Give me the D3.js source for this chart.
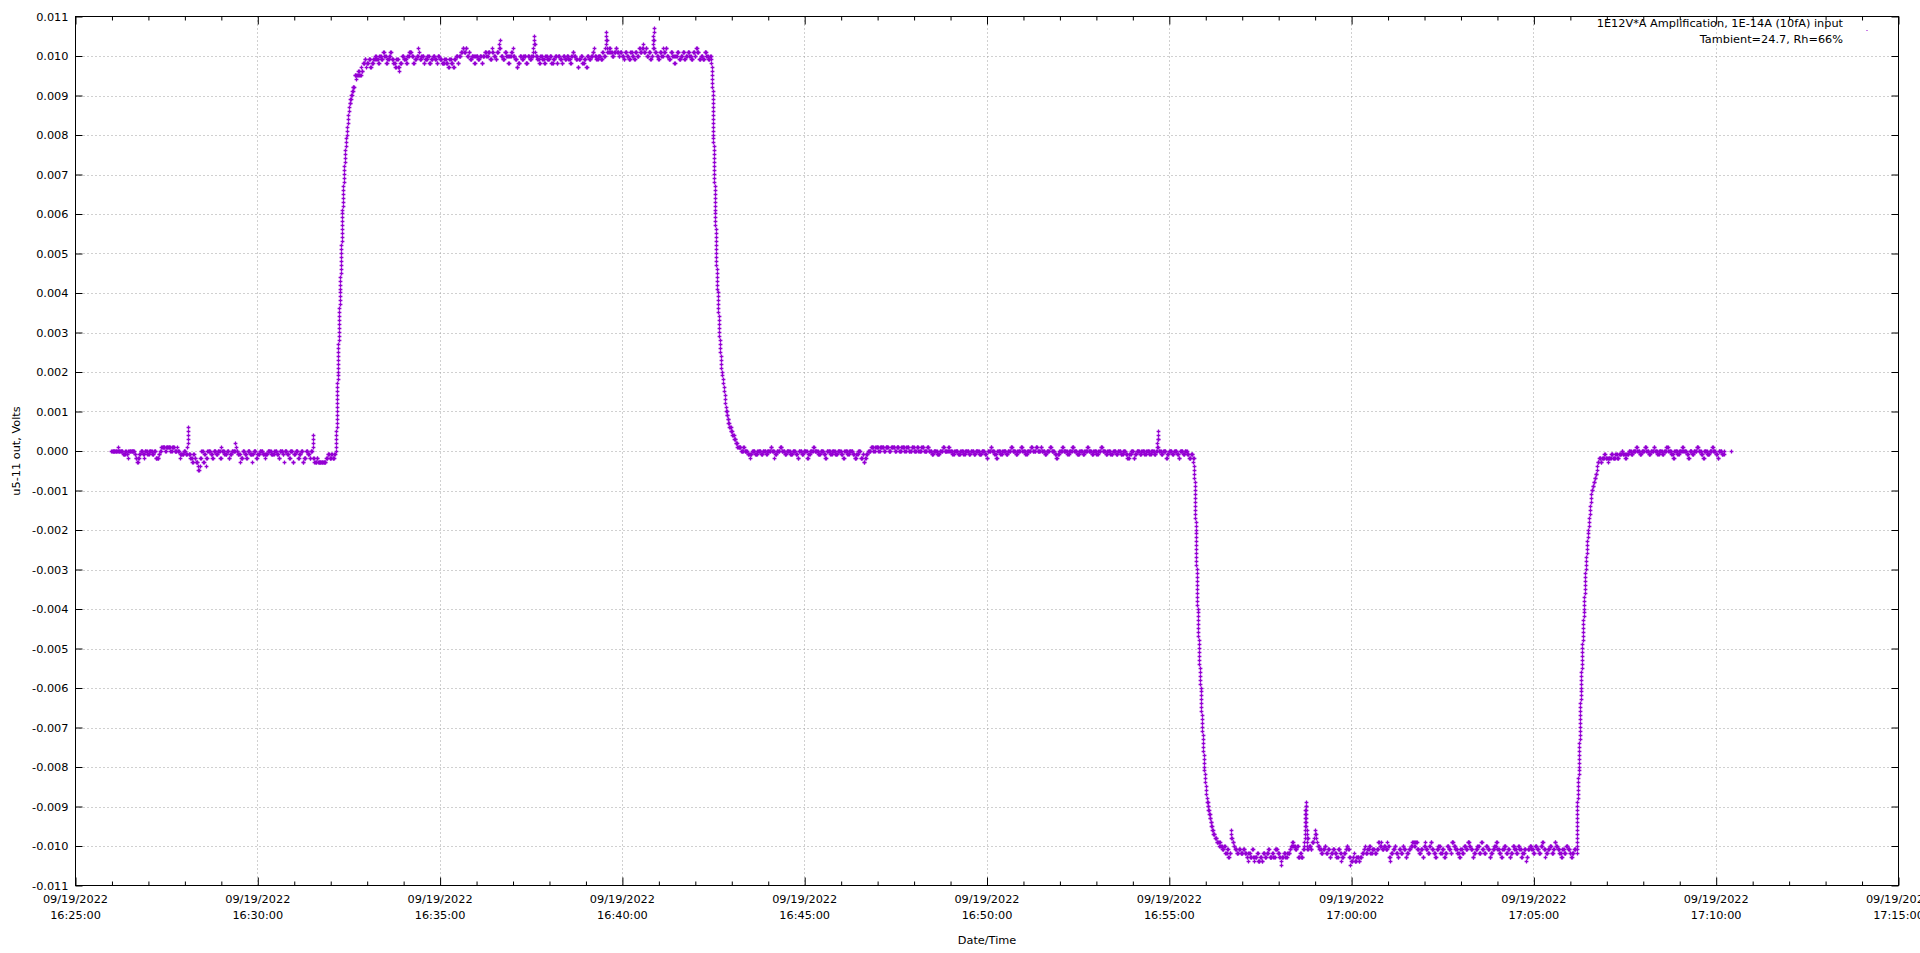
<!DOCTYPE html>
<html><head><meta charset="utf-8">
<script src="https://cdn.jsdelivr.net/npm/d3@7"></script>
<style>
html,body{margin:0;padding:0;background:#fff;overflow:hidden;}
svg{display:block;}
text{font-family:"DejaVu Sans",Verdana,sans-serif;font-size:11.3px;fill:#000;}
.tick text{font-family:"DejaVu Sans",Verdana,sans-serif;font-size:11.3px;fill:#000;}
</style></head><body>
<svg id="chart" width="1920" height="953"></svg>
<script>
// ---------------- DATA (levels in units of 0.0001 V, durations in seconds) ----------------
const yLabel = "u5-11 out, Volts";
const xLabel = "Date/Time";
const legendLines = ["1E12V*A Amplification, 1E-14A (10fA) input", "Tambient=24.7, Rh=66%"];
const yTickValues = [-0.011,-0.010,-0.009,-0.008,-0.007,-0.006,-0.005,-0.004,-0.003,-0.002,-0.001,0,0.001,0.002,0.003,0.004,0.005,0.006,0.007,0.008,0.009,0.010,0.011];
const xMajorMinutes = [0,5,10,15,20,25,30,35,40,45,50];   // minutes after 16:25:00
const xMinorMinutes = [1,2,3,4,6,7,8,9,11,12,13,14,16,17,18,19,21,22,23,24,26,27,28,29,31,32,33,34,36,37,38,39,41,42,43,44,46,47,48,49];

// segment start times, seconds after 16:25:00
const segStarts = {segA:60, rise1:429, segB:460, fall1:1047, segC:1090, fall2:1841.6, segD:1876, rise2:2471, segE:2506};

const segA = [[0,10],[1,1],[0,8],[-1,4],[0,2],[-1,2],[-2,1],[0,10],[-1,2],[-2,2],[-3,2],[-2,2],[-1,2],[0,4],[-1,2],[-2,1],[0,4],[-1,3],[0,5],[-1,3],[0,3],[-2,5],[-1,2],[0,2],[1,6],[0,2],[1,7],[0,3],[1,4],[0,4],[1,1],[0,3],[-2,1],[-1,6],[0,3],[-1,3],
[1,.3],[2,.3],[3,.3],[4,.3],[5,.3],[6,.5],
[-1,3],[-2,3],[-3,2],[-1,2],[-2,2],[-3,3],[-4,1],[-5,2],[-4,1],[-2,2],[0,3],[-3,2],[-1,2],[-4,1],[-2,2],[0,5],[-1,3],[-2,2],[0,4],[-1,3],[0,4],[-2,2],[1,1],[0,4],[-1,4],[0,3],[-2,2],[-1,3],[0,6],[2,1],[1,1],[0,2],[-1,4],[-3,1],[-2,3],[0,3],[-1,3],[-2,2],[0,4],[-1,3],[-3,1],[-1,2],[0,4],[-2,2],[-1,4],[0,5],[-1,4],[-2,1],[-1,3],[0,6],[-1,5],[0,4],[-1,3],[-2,2],[0,5],[-1,2],[-3,1],[0,4],[-1,3],[-2,2],[0,4],[-3,2],[-1,3],[0,4],[-2,2],[-1,3],[0,3],[-3,2],[-2,3],[0,3],[-1,3],[-2,2],[0,3],
[1,.3],[2,.3],[3,.3],[4,.5],
[-2,1.6],[-3,4],[-2,2],[-3,5],[-3,8],[-2,3],[-1,3],[-2,3],[-1,2],[-2,3],[-1,2]];

const rise1From = 0;
const rise1Dur = [.25,.25,.25,.25,.25,.25,
 .1,.1,.1,.1,.1,.1,.1,.1,
 .2,.25,.2,.25,.2,.2,
 .14,.14,.14,.14,.14,.14,.14,.14,
 .2,.18,.2,.18,.2,.18,.2,.18,.2,
 .2,.2,.2,.2,.2,.2,.2,.2,
 .24,.24,.24,.24,.24,
 .14,.14,.14,.14,.14,.14,.14,
 .23,.23,.23,.23,.23,.23,.23,
 .28,.28,.28,.28,.28,.28,
 .38,.38,.38,.38,.38,.38,
 .53,.53,.53,
 .65,.65,.65,.65,
 .4,.4,.4,
 .85,.85,
 1.35,1.35,1.35,1.35,
 2.7];

const segB = [[95,2],[94,1],[95,3],[96,2],[95,3],[97,1],[96,2],[98,3],[99,2],[97,1],[98,3],[99,3],[97,2],[98,3],[99,3],[100,2],[99,3],[98,2],[100,3],[99,3],[101,2],[100,3],[98,2],[99,3],[100,2],[101,2],[99,3],[98,3],[97,2],[99,3],[97,2],[96,1],[98,3],[100,3],[99,4],[98,2],[100,3],[101,4],[100,3],[98,2],[99,3],[100,3],[102,1],[101,1],[99,3],[100,4],[98,2],[99,4],[100,3],[98,3],[99,3],[100,3],[99,3],[98,2],[100,3],[99,4],[98,4],[99,3],[98,3],[97,2],[99,3],[98,3],[97,2],[99,3],[100,3],[98,2],[100,3],[101,3],[102,2],[101,3],[102,2],[100,3],[101,2],[99,3],[100,4],[98,2],[100,4],[99,3],[100,3],[98,2],[100,3],[101,3],[100,3],[101,3],[99,3],[102,1],[101,2],[100,3],[99,2],[101,3],[102,1],[103,1],[104,1],[102,1],[100,3],[99,3],[101,3],[100,3],[98,2],[100,3],[101,2],[102,1],[100,3],[99,3],[97,2],[98,3],[100,3],[99,3],[100,4],[98,3],[100,3],[99,3],[100,3],
[101,.5],[102,.5],[103,.5],[104,.5],[105,1],[103,.5],[101,.5],
[100,3],[99,3],[98,2],[100,3],[99,3],[98,2],[100,3],[99,4],[100,3],[98,3],[99,3],[100,3],[98,2],[100,3],[99,3],[98,2],[100,3],[99,3],[100,3],[99,3],[98,2],[100,2],[101,2],[100,3],[99,3],[97,2],[99,3],[100,3],[98,3],[99,3],[97,2],[100,3],[99,3],[100,3],[101,2],[102,1],[100,3],[99,3],[100,4],[99,3],[101,2],[100,3],
[102,.4],[103,.4],[104,.4],[105,.4],[106,.4],[104,.5],[102,.5],
[101,3],[102,2],[101,3],[100,3],[101,3],[102,2],[101,3],[100,2],[101,3],[100,3],[99,2],[101,3],[100,3],[99,3],[101,3],[100,3],[99,2],[101,3],[100,3],[102,2],[101,3],[102,2],[103,1],[101,3],[102,2],[100,3],[101,3],[99,2],[100,2],
[102,.3],[103,.3],[104,.3],[105,.3],[106,.3],[107,.5],[104,.4],[102,.6],
[101,3],[100,3],[99,2],[101,3],[100,3],[102,1],[101,3],[102,2],[100,3],[99,3],[101,3],[100,3],[98,2],[100,3],[101,3],[99,3],[100,3],[101,3],[99,2],[100,3],[101,3],[100,3],[99,3],[101,3],[100,2],[102,2],[101,3],[99,3],[100,3],[99,3],[101,3],[100,3],[99,3],[100,2]];

const fall1From = 99;
const fall1Dur = [.33,.33,.33,.33,
 .2,.2,.2,.2,.2,
 .1,.1,.1,.1,.1,.1,.1,.1,.1,.1,
 .17,.17,.17,.17,.17,.17,.17,.17,.17,.17,
 .16,.16,.16,.16,.16,.16,.16,.16,.16,.16,
 .12,.12,.12,.12,.12,.12,.12,.12,.12,.12,
 .26,.26,.26,.26,.26,.26,.26,.26,.26,.26,
 .28,.28,.28,.28,.28,.28,.28,.28,.28,.28,
 .38,.38,.38,.38,.38,.38,.38,.38,.38,.38,
 .88,.88,.88,.88,.88,
 .56,.56,.56,.56,.56,
 1.4,1.4,1.4,1.4,
 2.45,2.45,
 2.7,2.7,2.7];

const segC = [[1,6],[0,4],[1,2],[0,5],[-1,3],[-2,1],[-1,3],[0,5],[-1,4],[0,6],[-1,3],[0,5],[-1,2],[0,6],[1,2],[0,4],[-2,1],[-1,3],[0,5],[1,3],[0,5],[-1,3],[0,6],[-1,4],[0,5],[-1,3],[-2,2],[0,5],[-1,3],[0,6],[-2,2],[-1,3],[0,5],[1,2],[0,6],[-1,4],[0,5],[-1,3],[-2,2],[0,6],[-1,3],[0,5],[-1,4],[0,6],[-1,3],[-2,2],[0,5],[-1,3],[0,6],[-1,3],[-2,3],[-1,3],[0,4],[-2,3],[-1,2],[-3,2],[-2,2],[-1,3],[0,5],[1,4],[0,3],[1,5],[0,3],[1,6],[0,3],[1,5],[0,4],[1,6],[0,3],[1,4],[0,4],[1,5],[0,3],[1,4],[0,5],[1,4],[0,4],[1,3],[0,5],[1,4],[0,5],[1,3],[0,5],[-1,3],[0,6],[-1,4],[0,5],[1,3],[0,6],[1,2],[0,5],[-1,3],[0,6],[-1,4],[0,5],[-1,3],[0,6],[-1,3],[0,5],[-1,3],[0,6],[-1,4],[0,5],[-1,3],[-2,2],[0,5],[1,2],[0,4],[-1,3],[-2,2],[0,5],[-1,3],[0,6],[-1,3],[0,5],[1,3],[0,5],[-1,3],[0,5],[1,3],[0,5],[-1,3],[0,6],[1,3],[0,5],[1,3],[0,5],[1,2],[0,5],[-1,3],[0,5],[1,3],[0,5],[-1,3],[-2,2],[-1,3],[0,5],[1,2],[0,6],[-1,3],[0,5],[1,3],[0,5],[-1,4],[0,5],[-1,3],[0,5],[1,2],[0,5],[-1,3],[0,5],[-1,3],[0,4],[1,3],[0,5],[-1,3],[0,5],[-1,4],[0,5],[-1,3],[0,5],[-1,4],[0,4],[-1,3],[-2,3],[-1,3],[0,4],[-2,2],[-1,3],[0,5],[-1,3],[0,5],[-1,3],[0,5],[-1,3],[0,5],[-1,3],[0,2],
[1,.3],[2,.3],[3,.3],[4,.3],[5,.4],[3,.4],[1,.4],
[0,4],[-1,3],[0,5],[-2,2],[-1,3],[0,5],[-1,3],[0,5],[-1,3],[-2,2],[0,5],[-1,3],[0,4],[-1,3],[-2,3],[-1,3],[-3,1],[-2,1.6]];

const fall2From = -4;
const fall2Dur = [.2,.2,.2,.2,.2,.2,
 .16,.16,.16,.16,.16,.16,.16,.16,.16,.16,
 .12,.12,.12,.12,.12,.12,.12,.12,.12,.12,
 .17,.17,.17,.17,.17,.17,.17,.17,.17,.17,
 .21,.21,.21,.21,.21,.21,.21,.21,.21,.21,
 .28,.28,.28,.28,.28,.28,.28,.28,.28,.28,
 .26,.26,.26,.26,.26,.26,.26,.26,.26,.26,
 .33,.33,.33,.33,.33,.33,.33,.33,.33,.33,
 .54,.54,.54,.54,.54,.54,.54,.54,.54,
 1.1,1.1,1.1,1.1,
 1.35,1.35,1.35,1.35,
 3];

const segD = [[-98,3],[-99,3],[-100,1],[-99,2],[-100,3],[-101,3],[-100,2],[-102,3],[-101,2],[-103,2],[-102,2],
[-98,.5],[-97,.5],[-96,1],[-98,1],
[-99,2],[-100,2],[-101,3],[-102,3],[-101,3],[-102,4],[-101,3],[-102,3],[-103,2],[-104,1],[-102,3],[-103,3],[-101,2],[-103,2],[-104,1],[-103,3],[-102,2],[-104,3],[-103,3],[-104,2],[-102,3],[-103,3],[-102,3],[-101,2],[-103,4],[-102,2],[-103,3],[-101,4],[-102,3],[-103,2],[-104,1],[-105,1],[-103,3],[-102,3],[-103,3],[-102,4],[-101,2],[-100,2],[-99,2],[-100,3],[-101,3],[-100,2],[-103,3],[-102,2],[-103,3],[-101,2],
[-100,.2],[-99,.2],[-98,.2],[-97,.2],[-96,.2],[-95,.2],[-94,.2],[-93,.2],[-92,.2],[-91,.2],[-90,.2],[-89,.4],[-90,.2],[-91,.2],[-92,.2],[-93,.2],[-94,.2],[-95,.2],[-96,.2],[-97,.2],[-98,.2],[-99,.2],[-100,.2],
[-101,2],[-98,1],[-100,3],[-101,2],[-99,3],
[-98,1],[-97,1],[-96,1],[-97,1],[-98,1],
[-99,1],[-100,3],[-101,3],[-102,3],[-101,3],[-100,2],[-102,3],[-101,3],[-103,2],[-102,3],[-101,3],[-102,3],[-103,3],[-101,3],[-102,2],[-104,1],[-103,3],[-102,3],[-101,2],[-100,2],[-101,2],[-103,2],[-105,1],[-104,3],[-103,2],[-102,1],[-104,3],[-103,4],[-104,2],[-103,3],[-102,3],[-101,2],[-100,1],[-102,3],[-101,3],[-100,2],[-102,3],[-101,4],[-102,3],[-101,3],[-99,2],[-100,3],[-99,1],[-101,3],[-100,3],[-101,3],[-99,1],[-100,2],[-103,2],[-104,1],[-102,3],[-101,3],[-100,2],[-102,3],[-103,2],[-101,3],[-102,3],[-100,2],[-101,3],[-103,2],[-102,3],[-101,3],[-100,3],[-99,3],[-100,2],[-99,3],[-101,3],[-102,3],[-101,3],[-103,2],[-100,2],[-99,1],[-101,3],[-102,3],[-100,2],[-99,2],[-101,3],[-102,3],[-103,2],[-101,3],[-100,3],[-102,3],[-101,3],[-103,2],[-102,3],[-100,3],[-101,3],[-102,2],[-99,3],[-100,3],[-101,3],[-102,3],[-103,2],[-101,3],[-102,3],[-100,3],[-101,3],[-99,3],[-100,2],[-101,3],[-103,2],[-102,3],[-101,3],[-100,3],[-102,3],[-99,2],[-101,3],[-102,3],[-100,3],[-101,3],[-103,2],[-102,3],[-101,3],[-100,3],[-99,2],[-101,3],[-102,3],[-103,2],[-101,3],[-100,3],[-102,3],[-101,3],[-103,2],[-102,3],[-100,3],[-101,3],[-102,3],[-100,2],[-101,3],[-103,2],[-102,3],[-101,3],[-104,1],[-103,2],[-101,3],[-100,3],[-101,3],[-102,3],[-100,3],[-101,3],[-102,3],[-100,3],[-99,2],[-101,3],[-103,1],[-102,3],[-101,3],[-100,3],[-102,3],[-101,2],[-99,2],[-100,3],[-101,3],[-102,3],[-103,2],[-101,3],[-102,3],[-100,3],[-101,3],[-102,2],[-103,2],[-102,3],[-101,3]];

const rise2From = -102;
const rise2Dur = [.09,.09,.09,.09,.09,.09,.09,.09,.09,.09,.09,.09,
 .28,.28,.28,.28,.28,.28,.28,.28,.28,.28,
 .16,.16,.16,.16,.16,.16,.16,.16,.16,.16,
 .17,.17,.17,.17,.17,.17,.17,.17,.17,.17,
 .21,.21,.21,.21,.21,.21,.21,.21,.21,.21,
 .28,.28,.28,.28,.28,.28,.28,.28,.28,.28,
 .28,.28,.28,.28,.28,.28,.28,.28,.28,.28,
 .43,.43,.43,.43,.43,.43,.43,.43,.43,.43,
 .56,.56,.56,.56,.56,.56,.56,.56,.56,.56,
 1.8,1.8,1.8,
 1.65,1.65,
 .75,.75];

const segE = [[-3,2],[-2,3],[-3,2],[-2,4],[-1,2],[-2,4],[-3,1],[-2,4],[-1,3],[-2,4],[-1,3],[-2,3],[-1,4],[0,2],[-1,4],[-2,2],[-1,4],[0,4],[-1,3],[0,5],[1,2],[0,4],[-1,3],[0,5],[1,3],[0,4],[-1,3],[0,5],[1,2],[0,4],[-1,3],[0,5],[-1,3],[0,4],[1,3],[0,5],[-1,3],[-2,2],[0,5],[-1,3],[0,5],[1,2],[0,5],[-1,3],[-2,2],[0,4],[-1,3],[0,5],[1,3],[0,4],[-1,3],[-2,2],[0,5],[-1,4],[0,4],[1,2],[0,4],[-1,3],[-2,2],[0,5],[-1,4],[0,1],[null,11],[0,1]];

// ---------------- DECODING (run-length encoded readings -> points) ----------------
const points = [];
function addRuns(runs, start) {
  let t = start;
  for (const [lvl, d] of runs) {
    if (lvl !== null) {
      for (let k = 0; k === 0 || k < d - 1e-6; k++) points.push({t: t + k, v: lvl / 10000});
    }
    t += d;
  }
}
function addRamp(from, step, durs, start) {
  addRuns(durs.map((d, i) => [from + i * step, d]), start);
}
addRuns(segA, segStarts.segA);
addRamp(rise1From, 1, rise1Dur, segStarts.rise1);
addRuns(segB, segStarts.segB);
addRamp(fall1From, -1, fall1Dur, segStarts.fall1);
addRuns(segC, segStarts.segC);
addRamp(fall2From, -1, fall2Dur, segStarts.fall2);
addRuns(segD, segStarts.segD);
addRamp(rise2From, 1, rise2Dur, segStarts.rise2);
addRuns(segE, segStarts.segE);

// ---------------- CHART ----------------
const svg = d3.select("#chart");
const t0 = Date.UTC(2022, 8, 19, 16, 25, 0);
const toDate = s => new Date(t0 + s * 1000);
const x = d3.scaleUtc().domain([toDate(0), toDate(3000)]).range([75.5, 1898.5]);
const y = d3.scaleLinear().domain([-0.011, 0.011]).range([885.5, 16.5]);
const L = x.range()[0], R = x.range()[1], T = y.range()[1], B = y.range()[0];

const fmtY = d3.formatLocale({decimal: ".", thousands: ",", grouping: [3], currency: ["", ""], minus: "-"}).format(".3f");
const xMajor = xMajorMinutes.map(m => toDate(m * 60));
const xMinor = xMinorMinutes.map(m => toDate(m * 60));

// grid
const grid = svg.append("g").attr("class", "grid");
grid.selectAll("line.gy").data(yTickValues.slice(1, -1)).join("line").attr("class", "gy")
  .attr("x1", L).attr("x2", R).attr("y1", d => Math.round(y(d)) + 0.5).attr("y2", d => Math.round(y(d)) + 0.5);
grid.selectAll("line.gx").data(xMajor.slice(1, -1)).join("line").attr("class", "gx")
  .attr("x1", d => Math.round(x(d) - 0.5) + 0.5).attr("x2", d => Math.round(x(d) - 0.5) + 0.5).attr("y1", T).attr("y2", B);
grid.selectAll("line").attr("stroke", "#a0a0a0").attr("stroke-width", 1).attr("stroke-dasharray", "1,3");

// points
const cross = d3.symbol(d3.symbolCross, 8)();
svg.append("g").attr("class", "points").selectAll("path").data(points).join("path")
  .attr("d", cross)
  .attr("transform", d => `translate(${Math.floor(x(toDate(d.t))) + 0.5},${Math.floor(y(d.v)) + 0.5})`)
  .attr("fill", "#9400d3");

// axes (inward ticks, mirrored)
function styleAxis(g) { g.select(".domain").remove(); g.selectAll(".tick line").attr("stroke", "#000"); }
svg.append("g").attr("transform", `translate(0,${B})`)
  .call(d3.axisBottom(x).tickValues(xMajor).tickSizeInner(-8).tickSizeOuter(0).tickFormat(() => "")).call(styleAxis);
svg.append("g").attr("transform", `translate(0,${B})`)
  .call(d3.axisBottom(x).tickValues(xMinor).tickSizeInner(-4).tickSizeOuter(0).tickFormat(() => "")).call(styleAxis);
svg.append("g").attr("transform", `translate(0,${T})`)
  .call(d3.axisTop(x).tickValues(xMajor).tickSizeInner(-8).tickSizeOuter(0).tickFormat(() => "")).call(styleAxis);
svg.append("g").attr("transform", `translate(0,${T})`)
  .call(d3.axisTop(x).tickValues(xMinor).tickSizeInner(-4).tickSizeOuter(0).tickFormat(() => "")).call(styleAxis);
svg.append("g").attr("transform", `translate(${L},0)`)
  .call(d3.axisLeft(y).tickValues(yTickValues).tickSizeInner(-7).tickSizeOuter(0).tickPadding(7).tickFormat(fmtY)).call(styleAxis);
svg.append("g").attr("transform", `translate(${R},0)`)
  .call(d3.axisRight(y).tickValues(yTickValues).tickSizeInner(-7).tickSizeOuter(0).tickFormat(() => "")).call(styleAxis);

// x tick labels (two lines); the last one is clipped by the window edge, as in the reference
const fmtDate = d3.utcFormat("%m/%d/%Y"), fmtTime = d3.utcFormat("%H:%M:%S");
const xl = svg.append("g").attr("class", "xlabels").selectAll("text").data(xMajor).join("text")
  .attr("text-anchor", "middle").attr("x", d => x(d));
xl.append("tspan").attr("x", d => x(d)).attr("y", 903).text(d => fmtDate(d));
xl.append("tspan").attr("x", d => x(d)).attr("y", 919).text(d => fmtTime(d));

// border
svg.append("rect").attr("x", L).attr("y", T).attr("width", R - L).attr("height", B - T)
  .attr("fill", "none").attr("stroke", "#000").attr("stroke-width", 1);

// axis titles
svg.append("text").attr("transform", `translate(20,451) rotate(-90)`).attr("text-anchor", "middle").text(yLabel);
svg.append("text").attr("x", (L + R) / 2).attr("y", 944).attr("text-anchor", "middle").text(xLabel);

// key
const key = svg.append("g").attr("class", "key");
key.selectAll("text").data(legendLines).join("text")
  .attr("x", 1843).attr("y", (d, i) => 27.3 + i * 16).attr("text-anchor", "end").text(d => d);
key.append("rect").attr("x", 1866.5).attr("y", 30).attr("width", 1).attr("height", 1).attr("fill", "#9400d3");
</script>
</body></html>
